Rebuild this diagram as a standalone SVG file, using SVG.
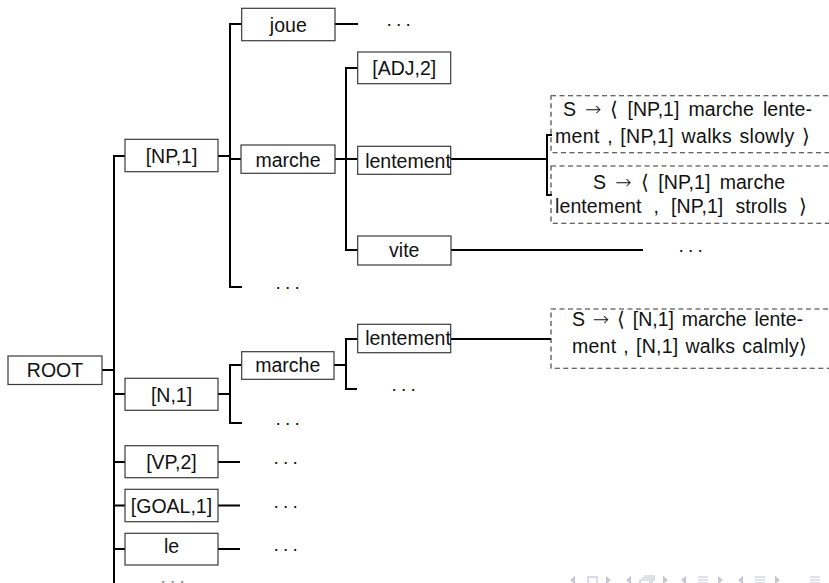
<svg xmlns="http://www.w3.org/2000/svg" width="829" height="583" viewBox="0 0 829 583">
<style>
.box{fill:#fff;stroke:#3a3a3a;stroke-width:1.2}
.rule{fill:none;stroke:#333;stroke-width:1.1;stroke-dasharray:5 3.5}
.t{font-family:"Liberation Sans",Arial,"DejaVu Sans",sans-serif;font-size:19.5px;fill:#111;text-anchor:middle}
.r{font-family:"Liberation Sans",Arial,"DejaVu Sans",sans-serif;font-size:19.5px;fill:#111}
.m{font-family:"DejaVu Sans",sans-serif;font-weight:200}
.d{font-family:"Liberation Sans",Arial,sans-serif;font-size:19px;fill:#111;letter-spacing:3.2px}
.c{fill:none;stroke:#000;stroke-width:2}
.nav{fill:none;stroke:#c4c4d4;stroke-width:1.2}
.navf{fill:#c4c4d4}
</style>
<rect width="829" height="583" fill="#fff"/>
<g id="connectors">
<path class="c" d="M102,370 H114 M114,155.5 V585 M113,156 H125 M113,394 H125 M113,462 H125 M113,505.5 H125 M113,549 H125"/>
<path class="c" d="M218,156 H230 M230,23 V287 M229,24 H242 M229,159 H241 M229,287 H242"/>
<path class="c" d="M335,24 H358"/>
<path class="c" d="M335,159 H346 M346,67 V251 M345,68 H358 M345,159 H358 M345,250 H358"/>
<path class="c" d="M451,159 H547 M552,135 H547 V195 H552"/>
<path class="c" d="M451,250 H643"/>
<path class="c" d="M218,394 H230 M230,364 V423 M229,365 H242 M229,423 H242"/>
<path class="c" d="M334,365 H346 M346,338 V390 M345,339 H358 M345,389 H357"/>
<path class="c" d="M451,339 H551"/>
<path class="c" d="M218,462 H240 M218,505.5 H240 M218,549 H240"/>
</g>
<g id="root"><rect class="box" x="8" y="356" width="94" height="28.5"/><text class="t" x="55" y="377.3">ROOT</text></g>
<g id="np1"><rect class="box" x="125" y="139.3" width="93" height="32.4"/><text class="t" x="171.5" y="163.3">[NP,1]</text></g>
<g id="n1"><rect class="box" x="125" y="378.3" width="93" height="32"/><text class="t" x="171.5" y="402.3">[N,1]</text></g>
<g id="vp2"><rect class="box" x="125" y="445.7" width="93" height="32"/><text class="t" x="171.5" y="469.3">[VP,2]</text></g>
<g id="goal1"><rect class="box" x="125" y="489.3" width="93" height="32.4"/><text class="t" x="171.5" y="513.3">[GOAL,1]</text></g>
<g id="le"><rect class="box" x="125" y="533.3" width="93" height="31.7"/><text class="t" x="171.5" y="553.3">le</text></g>
<g id="joue"><rect class="box" x="241.7" y="8.3" width="93.3" height="32.4"/><text class="t" x="288.3" y="31.7">joue</text></g>
<g id="marche1"><rect class="box" x="241" y="145" width="94" height="28.3"/><text class="t" x="288" y="166.7">marche</text></g>
<g id="marche2"><rect class="box" x="241.7" y="351.7" width="92.3" height="27.6"/><text class="t" x="287.8" y="371.7">marche</text></g>
<g id="adj2"><rect class="box" x="357.7" y="52" width="93" height="31.7"/><text class="t" x="404.2" y="75">[ADJ,2]</text></g>
<g id="lentement1"><rect class="box" x="357.7" y="146.3" width="93" height="28"/><text class="t" x="408" y="168.3">lentement</text></g>
<g id="vite"><rect class="box" x="357.7" y="236" width="93.3" height="29"/><text class="t" x="404.3" y="256.7">vite</text></g>
<g id="lentement2"><rect class="box" x="357.7" y="324.3" width="93" height="28.4"/><text class="t" x="408" y="345">lentement</text></g>
<g id="rule1"><rect class="rule" x="551" y="95.7" width="285" height="57"/>
<text class="r" x="563" y="116" word-spacing="3.5" textLength="249" lengthAdjust="spacing">S <tspan class="m">→</tspan> <tspan class="m">⟨</tspan> [NP,1] marche lente-</text>
<text class="r" x="555" y="143" word-spacing="1.7" textLength="255" lengthAdjust="spacing">ment , [NP,1] walks slowly <tspan class="m">⟩</tspan></text></g>
<g id="rule2"><rect class="rule" x="551" y="166" width="285" height="57.3"/>
<text class="r" x="593" y="188.5" word-spacing="3.8" textLength="192" lengthAdjust="spacing">S <tspan class="m">→</tspan> <tspan class="m">⟨</tspan> [NP,1] marche</text>
<text class="r" x="555" y="213" word-spacing="6.5" textLength="252" lengthAdjust="spacing">lentement , [NP,1] strolls <tspan class="m">⟩</tspan></text></g>
<g id="rule3"><rect class="rule" x="551" y="309" width="285" height="59.3"/>
<text class="r" x="572" y="326" word-spacing="2.5" textLength="231" lengthAdjust="spacing">S <tspan class="m">→</tspan> <tspan class="m">⟨</tspan> [N,1] marche lente-</text>
<text class="r" x="572" y="353" word-spacing="1.4" textLength="235" lengthAdjust="spacing">ment , [N,1] walks calmly<tspan class="m">⟩</tspan></text></g>
<g id="dots">
<text class="d" x="386" y="30">···</text>
<text class="d" x="275" y="293">···</text>
<text class="d" x="678" y="256">···</text>
<text class="d" x="275" y="429">···</text>
<text class="d" x="391" y="395">···</text>
<text class="d" x="273" y="468">···</text>
<text class="d" x="273" y="511.5">···</text>
<text class="d" x="273" y="555">···</text>
<text class="d" x="160" y="587" opacity="0.5">···</text>
</g>
<g id="nav">
<path class="navf" d="M575,576 L570,580 L575,584 Z M606,576 L611,580 L606,584 Z M631,576 L626,580 L631,584 Z M663,576 L668,580 L663,584 Z M686,576 L681,580 L686,584 Z M718,576 L723,580 L718,584 Z M743,576 L738,580 L743,584 Z M775,576 L780,580 L775,584 Z"/>
<rect class="nav" x="588" y="577" width="9" height="8"/>
<path class="nav" d="M640,580 h10 v5 h-10 z M642,578 h10 v5 M644,576 h10 v5"/>
<path class="nav" d="M698,577 h10 M698,580 h10 M698,583 h10 M755,577 h10 M755,580 h10 M755,583 h10 M810,577 h10 M810,580 h10 M810,583 h10"/>
</g>
</svg>
